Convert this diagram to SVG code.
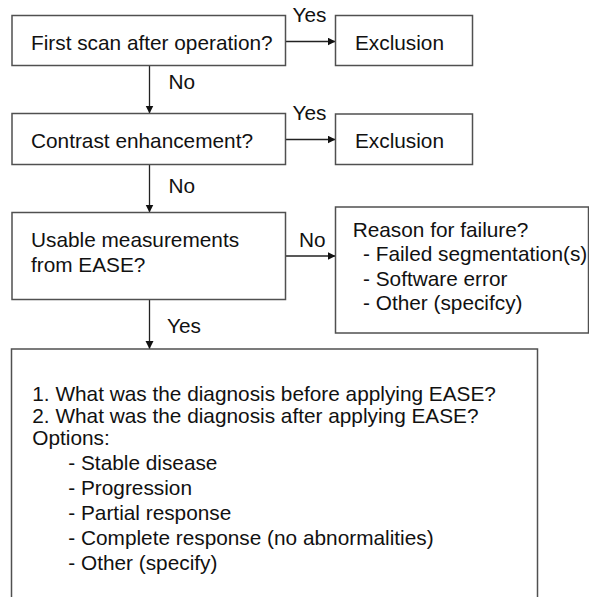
<svg xmlns="http://www.w3.org/2000/svg" width="589" height="597" viewBox="0 0 589 597">
  <style>
    .box { fill: #ffffff; stroke: #505050; stroke-width: 1.5; }
    .txt { font-family: "Liberation Sans", Arial, sans-serif; font-size: 20.8px; fill: #111111; }
    .conn { fill: none; stroke: #222222; stroke-width: 1.3; marker-end: url(#arrow); }
  </style>
  <defs>
    <marker id="arrow" markerUnits="userSpaceOnUse" markerWidth="9" markerHeight="9" refX="8" refY="4" orient="auto">
      <path d="M0,0 L8,4 L0,8 Z" fill="#111111"/>
    </marker>
  </defs>
  <rect width="589" height="597" fill="#ffffff"/>

  <g id="connectors">
    <line class="conn" x1="149.5" y1="65.5" x2="149.5" y2="113.5"/>
    <line class="conn" x1="149.5" y1="164.5" x2="149.5" y2="212.5"/>
    <line class="conn" x1="149.5" y1="299.5" x2="149.5" y2="349"/>
    <line class="conn" x1="285.5" y1="41.5" x2="335.5" y2="41.5"/>
    <line class="conn" x1="285.5" y1="139.5" x2="335.5" y2="139.5"/>
    <line class="conn" x1="285.5" y1="256" x2="335.5" y2="256"/>
    <text class="txt" x="292.5" y="22">Yes</text>
    <text class="txt" x="292.5" y="120">Yes</text>
    <text class="txt" x="168.5" y="89.3">No</text>
    <text class="txt" x="168.5" y="193">No</text>
    <text class="txt" x="299" y="246.7">No</text>
    <text class="txt" x="167" y="333.3">Yes</text>
  </g>

  <g id="first-scan">
    <rect class="box" x="12" y="15.5" width="273.5" height="50"/>
    <text class="txt" x="31" y="50">First scan after operation?</text>
  </g>

  <g id="exclusion-1">
    <rect class="box" x="335.5" y="15.5" width="137" height="50"/>
    <text class="txt" x="355" y="50">Exclusion</text>
  </g>

  <g id="contrast">
    <rect class="box" x="12" y="113.5" width="273.5" height="51"/>
    <text class="txt" x="31" y="147.6">Contrast enhancement?</text>
  </g>

  <g id="exclusion-2">
    <rect class="box" x="335.5" y="114" width="137" height="50.5"/>
    <text class="txt" x="355" y="147.6">Exclusion</text>
  </g>

  <g id="usable">
    <rect class="box" x="12" y="212.5" width="273.5" height="87"/>
    <text class="txt" x="31" y="246.6">Usable measurements</text>
    <text class="txt" x="31" y="271.6">from EASE?</text>
  </g>

  <g id="failure">
    <rect class="box" x="335.5" y="207" width="253" height="126"/>
    <text class="txt" x="352.7" y="236.7">Reason for failure?</text>
    <text class="txt" x="363" y="261">- Failed segmentation(s)</text>
    <text class="txt" x="363" y="285.7">- Software error</text>
    <text class="txt" x="363" y="310">- Other (specifcy)</text>
  </g>

  <g id="diagnosis">
    <rect class="box" x="11.5" y="349" width="526" height="260"/>
    <text class="txt" x="32.3" y="401">1. What was the diagnosis before applying EASE?</text>
    <text class="txt" x="32.3" y="422.7">2. What was the diagnosis after applying EASE?</text>
    <text class="txt" x="32.3" y="445">Options:</text>
    <text class="txt" x="68.3" y="470">- Stable disease</text>
    <text class="txt" x="68.3" y="495">- Progression</text>
    <text class="txt" x="68.3" y="520">- Partial response</text>
    <text class="txt" x="68.3" y="545">- Complete response (no abnormalities)</text>
    <text class="txt" x="68.3" y="570">- Other (specify)</text>
  </g>
</svg>
